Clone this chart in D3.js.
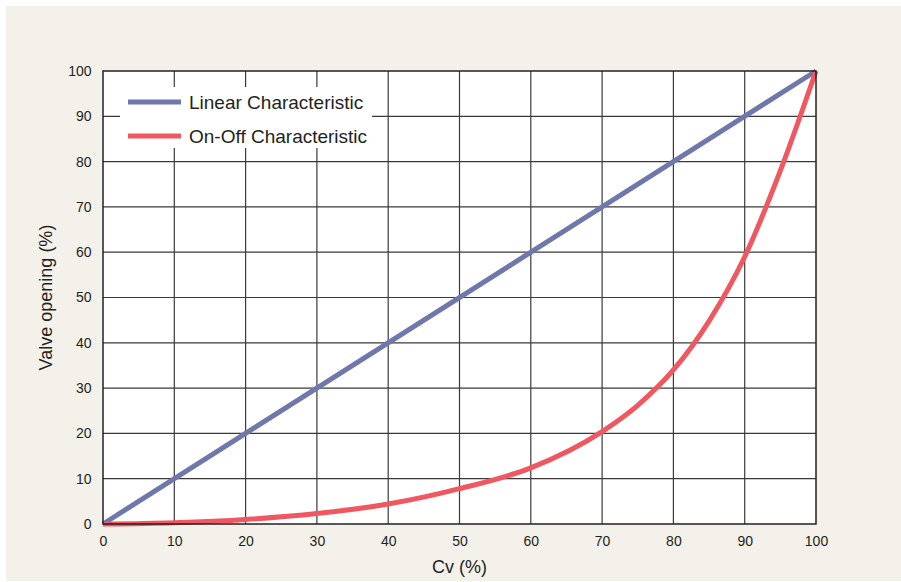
<!DOCTYPE html>
<html><head><meta charset="utf-8">
<script src="https://cdn.jsdelivr.net/npm/d3@7"></script>
<style>body{margin:0;background:#fff}svg{display:block;font-family:"Liberation Sans",Arial,Helvetica,sans-serif}</style>
</head><body><svg id="c" width="901" height="582"></svg>
<script>
const xTicks = [0,10,20,30,40,50,60,70,80,90,100];
const yTicks = [0,10,20,30,40,50,60,70,80,90,100];
const linearX = [0,100];
const linearY = [0,100];
const onOffX = [0,10,20,30,40,50,60,70,75,80,85,90,95,100];
const onOffY = [0,0.3,1,2.3,4.4,7.8,12.4,20.4,26.2,34,44.8,59,78,100];
const seriesNames = ["Linear Characteristic","On-Off Characteristic"];
const colors = ["#6f78ab","#ef5860"];

const svg = d3.select("#c");
svg.append("rect").attr("x",6).attr("y",6).attr("width",895).attr("height",575).attr("fill","#f4f1ea");
const L=103, R=816, T=71, B=524;
const x = d3.scaleLinear().domain([0,100]).range([L,R]);
const y = d3.scaleLinear().domain([0,100]).range([B,T]);
svg.append("rect").attr("x",L).attr("y",T).attr("width",R-L).attr("height",B-T).attr("fill","#fff");
// grid
const g = svg.append("g");
g.selectAll(".vx").data(xTicks.slice(1,-1)).join("line").attr("x1",d=>x(d)).attr("x2",d=>x(d)).attr("y1",T).attr("y2",B).attr("stroke","#3a3a3a").attr("stroke-width",1.2);
g.selectAll(".hy").data(yTicks.slice(1,-1)).join("line").attr("y1",d=>y(d)).attr("y2",d=>y(d)).attr("x1",L).attr("x2",R).attr("stroke","#3a3a3a").attr("stroke-width",1.2);
// legend box
svg.append("rect").attr("x",120).attr("y",87).attr("width",252).attr("height",61).attr("fill","#fff");
// axes labels via d3 axes
const xa = svg.append("g").attr("transform",`translate(0,${B})`).call(d3.axisBottom(x).tickValues(xTicks).tickSize(0).tickPadding(12));
const ya = svg.append("g").attr("transform",`translate(${L},0)`).call(d3.axisLeft(y).tickValues(yTicks).tickSize(0).tickPadding(11.5));
[xa,ya].forEach(a=>{a.select(".domain").remove();a.selectAll("text").attr("font-size",14).attr("fill","#231f20").attr("font-family","'Liberation Sans',Arial,sans-serif");});
// lines
const line = d3.line().x(d=>x(d[0])).y(d=>y(d[1]));
svg.append("path").datum(linearX.map((v,i)=>[v,linearY[i]])).attr("d",line).attr("fill","none").attr("stroke",colors[0]).attr("stroke-width",5);
svg.append("path").datum(onOffX.map((v,i)=>[v,onOffY[i]])).attr("d",line.curve(d3.curveMonotoneX)).attr("fill","none").attr("stroke",colors[1]).attr("stroke-width",5);
// frame
svg.append("rect").attr("x",L).attr("y",T).attr("width",R-L).attr("height",B-T).attr("fill","none").attr("stroke","#231f20").attr("stroke-width",1.5);
// legend
seriesNames.forEach((n,i)=>{
  const yy = 102 + i*34;
  svg.append("line").attr("x1",128).attr("x2",181).attr("y1",yy).attr("y2",yy).attr("stroke",colors[i]).attr("stroke-width",5);
  svg.append("text").attr("x",189).attr("y",yy+6.6).attr("font-size",19).attr("fill","#231f20").text(n);
});
// titles
svg.append("text").attr("x",(L+R)/2).attr("y",573).attr("text-anchor","middle").attr("font-size",18).attr("fill","#231f20").text("Cv (%)");
svg.append("text").attr("transform",`translate(52,${(T+B)/2}) rotate(-90)`).attr("text-anchor","middle").attr("font-size",18).attr("fill","#231f20").text("Valve opening (%)");
</script></body></html>
